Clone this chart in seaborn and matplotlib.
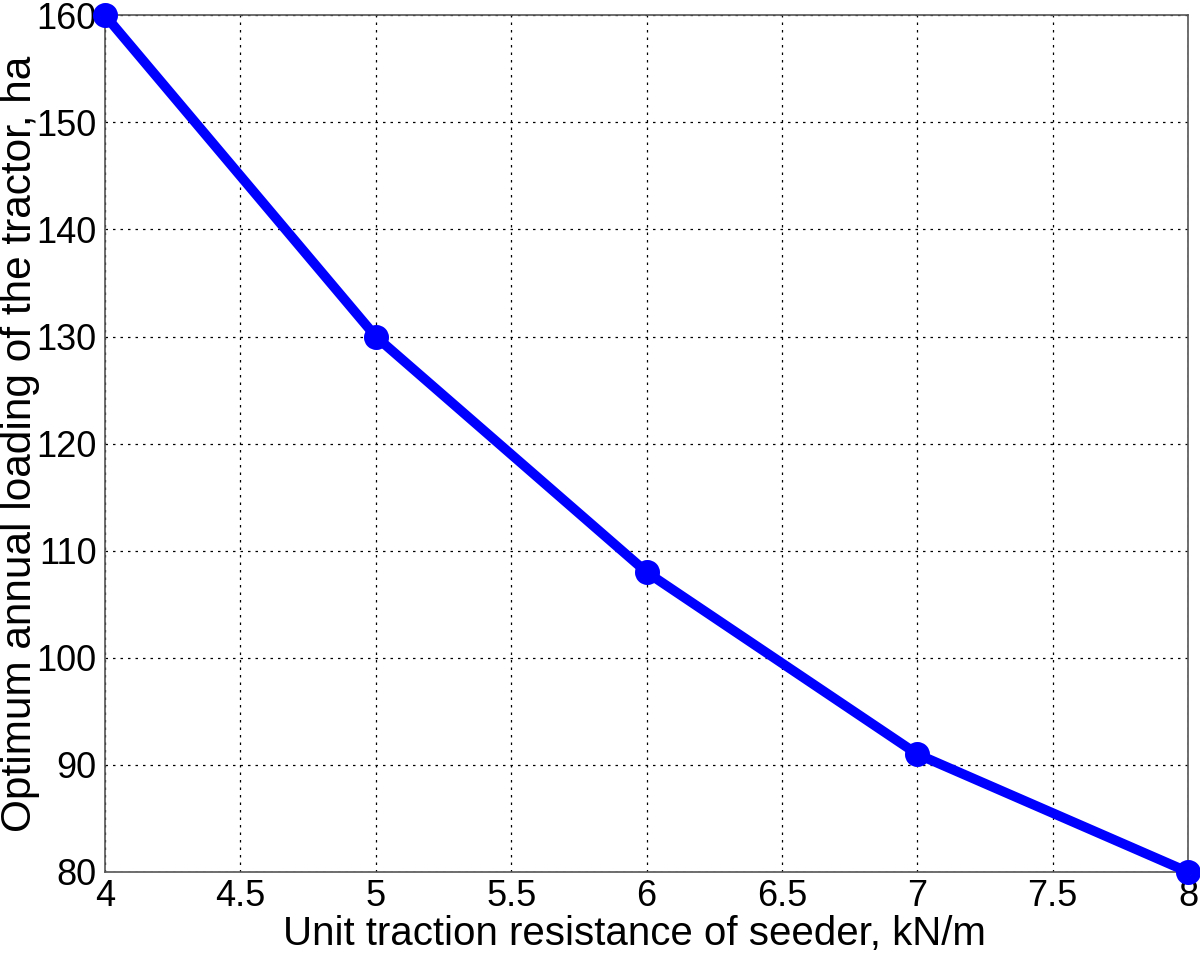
import matplotlib
matplotlib.use("Agg")
import matplotlib.pyplot as plt
import seaborn as sns
import pandas as pd

# values
resistance = [4, 5, 6, 7, 8]
loading = [160, 130, 108, 91, 80]

x_ticks = [4, 4.5, 5, 5.5, 6, 6.5, 7, 7.5, 8]
x_tick_labels = ["4", "4.5", "5", "5.5", "6", "6.5", "7", "7.5", "8"]
y_ticks = [80, 90, 100, 110, 120, 130, 140, 150, 160]

df = pd.DataFrame({"x": resistance, "y": loading})

sns.set_style("white")
plt.rcParams["font.family"] = ["Liberation Sans", "DejaVu Sans"]
plt.rcParams["text.color"] = "black"
plt.rcParams["axes.labelcolor"] = "black"

fig = plt.figure(figsize=(12, 9.55), dpi=100)
ax = fig.add_axes([0.0875, 0.087, 0.9025, 0.897])

# hollow 'o' markers with a thick edge, as in the original MATLAB figure
sns.lineplot(data=df, x="x", y="y", ax=ax, color="#0000ff", linewidth=7,
             marker="o", markersize=11.5, markerfacecolor="none",
             markeredgecolor="#0000ff", markeredgewidth=6.5, clip_on=False,
             zorder=5)

ax.set_xlim(4, 8)
ax.set_ylim(80, 160)
ax.set_xticks(x_ticks)
ax.set_xticklabels(x_tick_labels)
ax.set_yticks(y_ticks)

ax.grid(True, color="black", linestyle=(0, (2, 4)), linewidth=0.9)
for s in ax.spines.values():
    s.set_color("#555555")
    s.set_linewidth(1.2)

ax.tick_params(axis="both", direction="in", length=6, width=1, color="#555555",
               labelsize=26, labelcolor="black")
ax.tick_params(axis="x", pad=5)
ax.tick_params(axis="y", pad=6)

ax.set_xlabel("Unit traction resistance of seeder, kN/m", fontsize=29)
ax.set_ylabel("Optimum annual loading of the tractor, ha", fontsize=30.5)
ax.xaxis.set_label_coords(0.489, -0.05)
ax.yaxis.set_label_coords(-0.06, 0.5)

fig.savefig("out.png", dpi=100)
